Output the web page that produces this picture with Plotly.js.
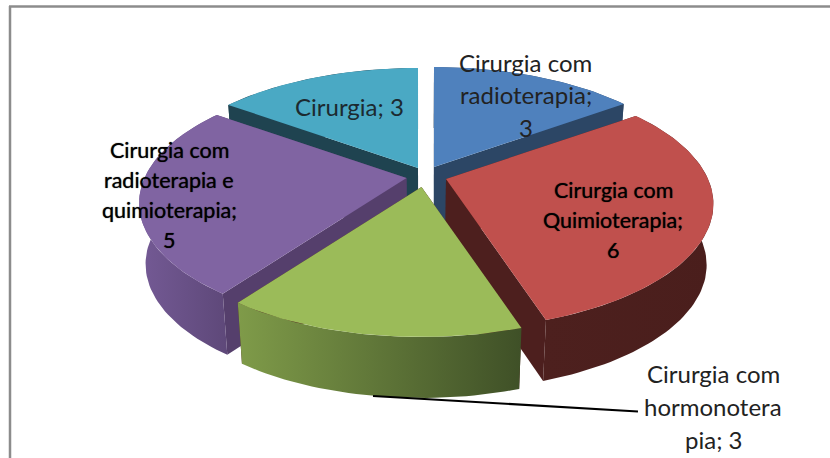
<!DOCTYPE html>
<html>
<head>
<meta charset="utf-8">
<script src="https://cdn.plot.ly/plotly-3.0.1.min.js"></script>
<style>html,body{margin:0;padding:0;background:#fff;overflow:hidden}#c{width:830px;height:458px}</style>
</head>
<body>
<div id="c"></div>
<script>
// --- data ---
const categories = ["Cirurgia com radioterapia", "Cirurgia com Quimioterapia", "Cirurgia com hormonoterapia", "Cirurgia com radioterapia e quimioterapia", "Cirurgia"];
const values = [3, 6, 3, 5, 3];
const labelLines = [
  ["Cirurgia com", "radioterapia;", "3"],
  ["Cirurgia com", "Quimioterapia;", "6"],
  ["Cirurgia com", "hormonotera", "pia; 3"],
  ["Cirurgia com", "radioterapia e", "quimioterapia;", "5"],
  ["Cirurgia; 3"]
];

// --- 3D-pie look: camera, explosion, colours (styling, not data) ---
const RX = 262, RY = 120, PERSP = 0.2, DEPTH = 61, BOTTOM_SHRINK = 0.977;
const apexX = [434, 446, 421.5, 406.5, 418];
const apexY = [167, 179, 187, 178, 168];
const topColor = ["#4f81bd", "#c0504d", "#9bbb59", "#8064a2", "#4aa9c4"];
const cutColor = ["#2c4665", "#4d1f1e", "#4d1f1e", "#553f6c", "#1f4350"];
const wallLeft = ["#2c4665", "#4d201e", "#7f9b49", "#745a95", "#1f4350"];
const wallRight = ["#2c4665", "#4a1e1c", "#3f5027", "#5e4879", "#1f4350"];
const drawOrder = [4, 0, 3, 1, 2];
const labelX = [525.5, 613, 713, 169, 349];
const labelY = [62, 190, 373, 150, 106];
const labelGap = [32.5, 30, 33, 30, 0];
const labelSize = [24, 21.5, 24, 21.5, 24];
const labelColor = ["#222222", "#000000", "#222222", "#000000", "#1c2a30"];
const labelShadow = ["none", "0 0 1px rgba(0,0,0,0.8)", "none", "0 0 1px rgba(0,0,0,0.8)", "none"];
const leaderX = [373, 638];
const leaderY = [396, 411.5];

const total = values.reduce((a, b) => a + b, 0);

function project(i, t, lower) {
  const u = Math.sin(t), v = Math.cos(t), d = 1 + PERSP * v;
  const x = apexX[i] + RX * u / d, y = apexY[i] - RY * v / d;
  return lower ? [420 + (x - 420) * BOTTOM_SHRINK, y + DEPTH] : [x, y];
}
function arc(i, a, b, lower) {
  const pts = [];
  const n = Math.max(8, Math.round((b - a) * 40));
  for (let k = 0; k <= n; k++) pts.push(project(i, a + (b - a) * k / n, lower));
  return pts;
}
function apex(i, lower) {
  const x = apexX[i], y = apexY[i];
  return lower ? [420 + (x - 420) * BOTTOM_SHRINK, y + DEPTH] : [x, y];
}
function poly(pts, color, extra) {
  const xs = pts.map(p => p[0]).concat([pts[0][0]]);
  const ys = pts.map(p => p[1]).concat([pts[0][1]]);
  return Object.assign({
    type: "scatter", mode: "lines", x: xs, y: ys, fill: "toself", fillcolor: color,
    line: {width: 0, color: color}, hoverinfo: "skip", showlegend: false
  }, extra || {});
}

const starts = [];
let acc = 0;
values.forEach(v => { starts.push(acc); acc += v; });

const traces = [];
drawOrder.forEach(i => {
  const a = starts[i] / total * 2 * Math.PI;
  const b = (starts[i] + values[i]) / total * 2 * Math.PI;
  [a, b].forEach(t => {
    traces.push(poly([apex(i, false), project(i, t, false), project(i, t, true), apex(i, true)], cutColor[i]));
  });
  const wall = arc(i, a, b, false).concat(arc(i, a, b, true).reverse());
  traces.push(poly(wall, wallLeft[i], {
    fillgradient: {type: "horizontal", colorscale: [[0, wallLeft[i]], [1, wallRight[i]]]}
  }));
  traces.push(poly([apex(i, false)].concat(arc(i, a, b, false)), topColor[i]));
});

traces.push({
  type: "scatter", mode: "lines", x: leaderX, y: leaderY,
  line: {color: "#000000", width: 2.2}, hoverinfo: "skip", showlegend: false
});

const annotations = [];
labelLines.forEach((lines, i) => {
  lines.forEach((s, j) => {
    annotations.push({
      xref: "x", yref: "y", x: labelX[i], y: labelY[i] + j * labelGap[i],
      text: s, showarrow: false, xanchor: "center", yanchor: "middle",
      font: {family: "Lato, 'Open Sans', sans-serif", size: labelSize[i], color: labelColor[i], shadow: labelShadow[i]}
    });
  });
});

const layout = {
  width: 830, height: 458,
  margin: {l: 0, r: 0, t: 0, b: 0},
  paper_bgcolor: "#ffffff", plot_bgcolor: "#ffffff",
  showlegend: false,
  xaxis: {range: [0, 830], visible: false, fixedrange: true},
  yaxis: {range: [458, 0], visible: false, fixedrange: true},
  shapes: [
    {type: "line", xref: "x", yref: "y", x0: 10, x1: 10, y0: 6, y1: 458, line: {color: "#8c8c8c", width: 2.5}},
    {type: "line", xref: "x", yref: "y", x0: 9, x1: 830, y0: 6.5, y1: 6.5, line: {color: "#8c8c8c", width: 2.5}}
  ],
  annotations: annotations
};
Plotly.newPlot("c", traces, layout, {displayModeBar: false, staticPlot: true});
</script>
</body>
</html>
